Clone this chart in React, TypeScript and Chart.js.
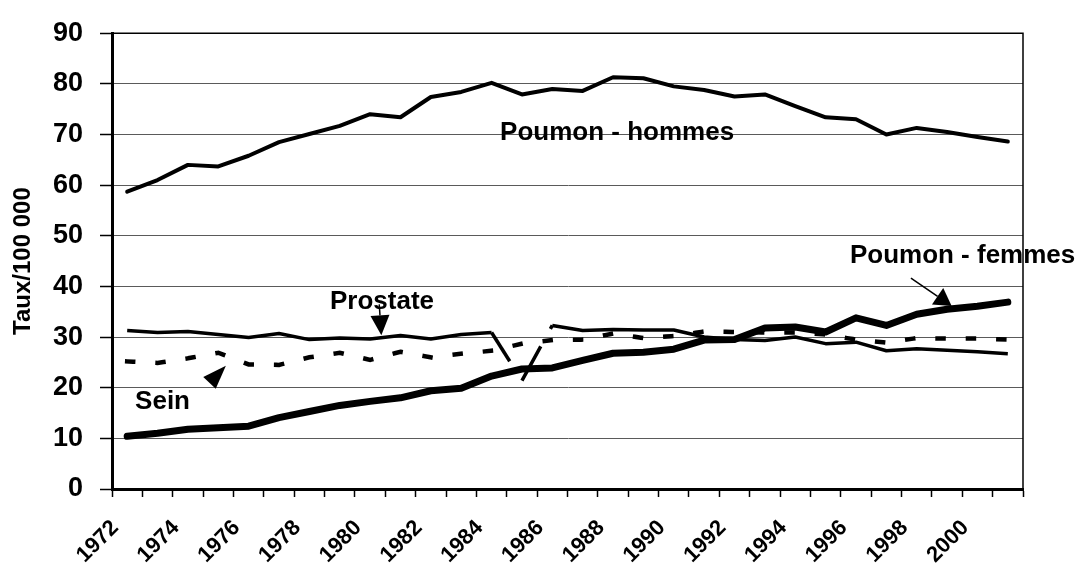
import React, { useEffect, useRef } from 'react';
import { Chart, registerables } from 'chart.js';

Chart.register(...registerables);

const FONT = '"Liberation Sans", Arial, Helvetica, sans-serif';

const years = [
  '1972', '1973', '1974', '1975', '1976', '1977', '1978', '1979', '1980', '1981',
  '1982', '1983', '1984', '1985', '1986', '1987', '1988', '1989', '1990', '1991',
  '1992', '1993', '1994', '1995', '1996', '1997', '1998', '1999', '2000', '2001',
];

const xTickLabels = [
  '1972', '1974', '1976', '1978', '1980', '1982', '1984', '1986', '1988', '1990',
  '1992', '1994', '1996', '1998', '2000',
];

const poumonHommes = [
  58.7, 61.0, 64.0, 63.7, 65.8, 68.5, 70.1, 71.7, 74.0, 73.4,
  77.4, 78.4, 80.2, 77.9, 79.0, 78.6, 81.3, 81.1, 79.5, 78.8,
  77.5, 77.9, 75.6, 73.4, 73.0, 70.0, 71.3, 70.5, 69.5, 68.6,
];

const poumonFemmes = [
  10.4, 11.0, 11.8, 12.1, 12.4, 14.1, 15.3, 16.5, 17.3, 18.0,
  19.4, 19.9, 22.3, 23.7, 23.9, 25.4, 26.8, 27.0, 27.6, 29.4,
  29.5, 31.8, 32.0, 31.0, 33.8, 32.3, 34.5, 35.5, 36.1, 36.9,
];

const prostate = [
  31.3, 30.9, 31.1, 30.5, 29.9, 30.7, 29.5, 29.8, 29.6, 30.3,
  29.6, 30.5, 30.9, 21.4, 32.3, 31.3, 31.5, 31.4, 31.4, 30.0,
  29.5, 29.3, 30.0, 28.7, 29.0, 27.3, 27.7, 27.4, 27.1, 26.7,
];

const sein = [
  25.2, 24.9, 25.8, 26.9, 24.6, 24.5, 26.0, 26.9, 25.5, 27.1,
  26.0, 26.7, 27.3, 28.7, 29.4, 29.5, 30.7, 29.8, 30.2, 31.1,
  31.0, 30.9, 30.9, 30.5, 29.5, 28.9, 29.8, 29.7, 29.7, 29.5,
];

const yMin = 0;
const yMax = 90;
const yStep = 10;
const yTitle = 'Taux/100 000';

// annotation labels, positioned in data space (category index, value)
const labelTexts = ['Poumon - hommes', 'Poumon - femmes', 'Prostate', 'Sein'];
const labelIdx = [12.28, 23.8, 6.68, 0.26];
const labelVal = [69.0, 44.54, 35.5, 15.84];

// arrows: from (index, value) -> tip (index, value)
const arrowFromIdx = [8.3, 2.72, 25.81];
const arrowFromVal = [36.46, 21.0, 41.64];
const arrowTipIdx = [8.37, 3.25, 27.15];
const arrowTipVal = [30.35, 24.35, 36.15];
const arrowHeadLen = [20, 23.8, 17];
const arrowHeadWidth = [19, 17.2, 20];

const annotationPlugin = {
  id: 'annotations',
  afterDraw(chart: any) {
    const { ctx, chartArea, scales } = chart;
    const xs = scales.x;
    const ys = scales.y;
    ctx.save();
    // plot border (top and right)
    ctx.strokeStyle = '#000';
    ctx.lineWidth = 1.5;
    ctx.beginPath();
    ctx.moveTo(chartArea.left, chartArea.top);
    ctx.lineTo(chartArea.right, chartArea.top);
    ctx.lineTo(chartArea.right, chartArea.bottom);
    ctx.stroke();

    // text labels
    ctx.fillStyle = '#000';
    ctx.font = `bold 26px ${FONT}`;
    ctx.textAlign = 'left';
    ctx.textBaseline = 'alphabetic';
    labelTexts.forEach((t, i) => {
      ctx.fillText(t, xs.getPixelForValue(labelIdx[i]), ys.getPixelForValue(labelVal[i]));
    });

    // arrows
    arrowTipIdx.forEach((_, i) => {
      const fx = xs.getPixelForValue(arrowFromIdx[i]);
      const fy = ys.getPixelForValue(arrowFromVal[i]);
      const tx = xs.getPixelForValue(arrowTipIdx[i]);
      const ty = ys.getPixelForValue(arrowTipVal[i]);
      const dx = tx - fx;
      const dy = ty - fy;
      const len = Math.hypot(dx, dy) || 1;
      const ux = dx / len;
      const uy = dy / len;
      const hl = arrowHeadLen[i];
      const hw = arrowHeadWidth[i] / 2;
      const bx = tx - ux * hl;
      const by = ty - uy * hl;
      if (len > hl + 1) {
        ctx.lineWidth = 1.5;
        ctx.beginPath();
        ctx.moveTo(fx, fy);
        ctx.lineTo(bx, by);
        ctx.stroke();
      }
      ctx.beginPath();
      ctx.moveTo(tx, ty);
      ctx.lineTo(bx - uy * hw, by + ux * hw);
      ctx.lineTo(bx + uy * hw, by - ux * hw);
      ctx.closePath();
      ctx.fill();
    });
    ctx.restore();
  },
};

export default function App() {
  const ref = useRef<HTMLCanvasElement | null>(null);

  useEffect(() => {
    if (!ref.current) return;
    const chart = new Chart(ref.current, {
      type: 'line',
      data: {
        labels: years,
        datasets: [
          {
            label: 'Poumon - hommes',
            data: poumonHommes,
            borderColor: '#000',
            borderWidth: 4,
            borderCapStyle: 'round',
            borderJoinStyle: 'round',
            pointRadius: 0,
            tension: 0,
            fill: false,
          },
          {
            label: 'Prostate',
            data: prostate,
            borderColor: '#000',
            borderWidth: 3.5,
            borderCapStyle: 'butt',
            borderJoinStyle: 'round',
            pointRadius: 0,
            tension: 0,
            fill: false,
            segment: {
              borderDash: (c: any) =>
                c.p0DataIndex === 12 ? [34, 200] : c.p0DataIndex === 13 ? [39, 20, 10] : undefined,
            },
          },
          {
            label: 'Sein',
            data: sein,
            borderColor: '#000',
            borderWidth: 4.5,
            borderDash: [6, 24.4],
            borderCapStyle: 'square',
            borderJoinStyle: 'miter',
            pointRadius: 0,
            tension: 0,
            fill: false,
          },
          {
            label: 'Poumon - femmes',
            data: poumonFemmes,
            borderColor: '#000',
            borderWidth: 7,
            borderCapStyle: 'round',
            borderJoinStyle: 'round',
            pointRadius: 0,
            tension: 0,
            fill: false,
          },
        ],
      },
      options: {
        animation: false,
        responsive: false,
        events: [],
        layout: { padding: { left: 0, right: 60, top: 23, bottom: 0 } },
        plugins: {
          legend: { display: false },
          tooltip: { enabled: false },
          title: { display: false },
        },
        scales: {
          x: {
            type: 'category',
            offset: true,
            grid: {
              display: true,
              drawOnChartArea: false,
              drawTicks: true,
              tickLength: 8,
              offset: true,
              tickColor: '#000',
              tickWidth: 1.5,
            },
            border: { display: true, color: '#000', width: 3 },
            ticks: {
              autoSkip: false,
              maxRotation: 45,
              minRotation: 45,
              padding: 18,
              labelOffset: -12,
              color: '#000',
              font: { family: FONT, size: 22, weight: 'bold' },
              callback: (_v: any, i: number) => (xTickLabels.includes(years[i]) ? years[i] : ''),
            },
            afterFit: (s: any) => {
              s.height = 77;
            },
          },
          y: {
            min: yMin,
            max: yMax,
            grid: {
              color: '#5a5a5a',
              lineWidth: 1,
              drawTicks: true,
              tickLength: 12,
              tickColor: '#000',
              tickWidth: 1.5,
            },
            border: { display: true, color: '#000', width: 3 },
            ticks: {
              stepSize: yStep,
              padding: 17,
              color: '#000',
              font: { family: FONT, size: 27, weight: 'bold' },
            },
            title: {
              display: true,
              text: yTitle,
              color: '#000',
              font: { family: FONT, size: 24, weight: 'bold' },
              padding: { top: 9, bottom: 0 },
            },
            afterFit: (s: any) => {
              s.width = 112;
            },
          },
        },
      },
      plugins: [annotationPlugin],
    } as any);
    return () => chart.destroy();
  }, []);

  return (
    <div style={{ position: 'absolute', left: 0, top: 0, width: 1083, height: 566, background: '#fff' }}>
      <canvas ref={ref} width={1083} height={566} style={{ display: 'block' }} />
    </div>
  );
}
